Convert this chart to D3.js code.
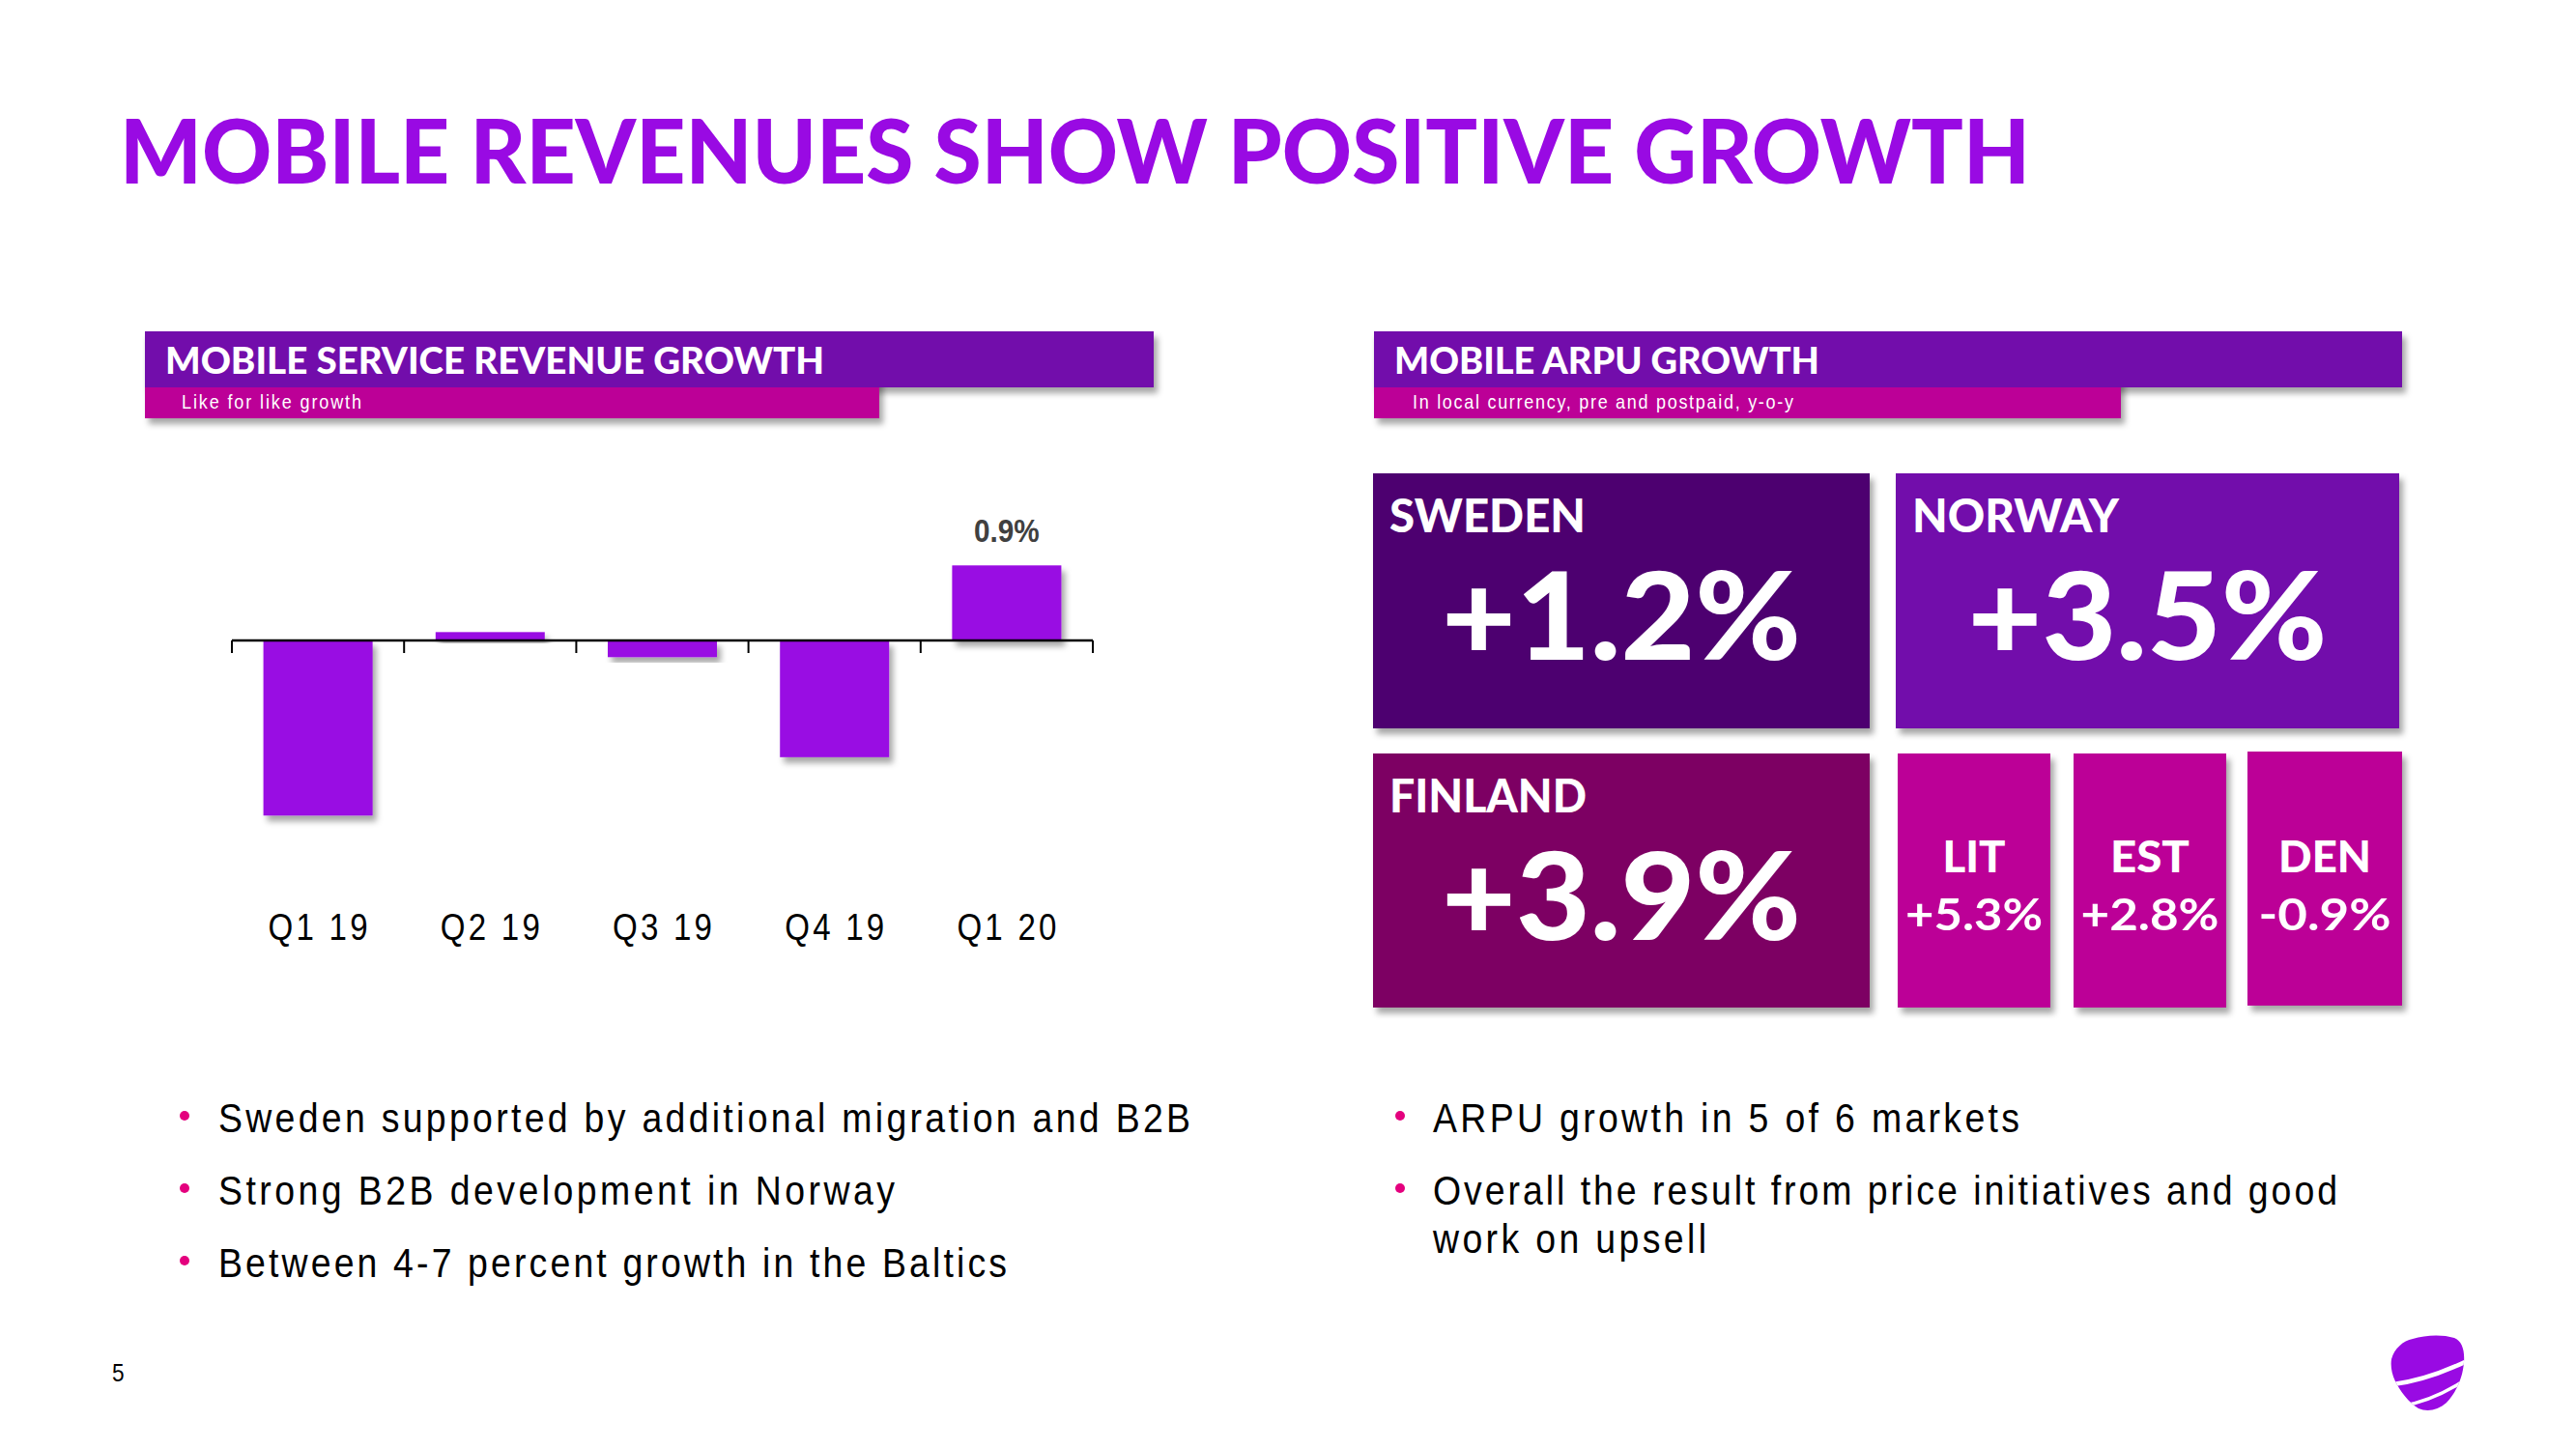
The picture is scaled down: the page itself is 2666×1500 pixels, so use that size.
<!DOCTYPE html>
<html><head><meta charset="utf-8">
<script src="https://cdn.jsdelivr.net/npm/d3@7"></script>
<style>
html,body{margin:0;padding:0;background:#fff;}
svg{display:block;}
</style></head>
<body>
<script>
// ---------- DATA ----------
const title = "MOBILE REVENUES SHOW POSITIVE GROWTH";
const categories = ["Q1 19", "Q2 19", "Q3 19", "Q4 19", "Q1 20"];
const values = [-2.1, 0.1, -0.2, -1.4, 0.9];
const valueLabels = ["", "", "", "", "0.9%"];
const leftHeader = "MOBILE SERVICE REVENUE GROWTH";
const leftSub = "Like for like growth";
const rightHeader = "MOBILE ARPU GROWTH";
const rightSub = "In local currency, pre and postpaid, y-o-y";
const bigCountries = ["SWEDEN", "NORWAY", "FINLAND"];
const bigValues = ["+1.2%", "+3.5%", "+3.9%"];
const smallCountries = ["LIT", "EST", "DEN"];
const smallValues = ["+5.3%", "+2.8%", "-0.9%"];
const leftBullets = ["Sweden supported by additional migration and B2B", "Strong B2B development in Norway", "Between 4-7 percent growth in the Baltics"];
const rightBullets = [["ARPU growth in 5 of 6 markets"], ["Overall the result from price initiatives and good", "work on upsell"]];
const pageNumber = "5";

// ---------- STYLE ----------
const W = 2666, H = 1500;
const C = {purple:"#990AE3", header:"#7209AB", magenta:"#BC0097", sweden:"#4D066F", norway:"#7209AB", finland:"#7D0064", small:"#BC0097"};
const heavy = "'Lato','Open Sans','DejaVu Sans',sans-serif";
const narrow = "'Liberation Sans Narrow','Liberation Sans',Arial,sans-serif";
const SX = 0.87; // horizontal compression to emulate a narrow face

const svg = d3.select("body").append("svg").attr("width", W).attr("height", H);
const defs = svg.append("defs");
const f = defs.append("filter").attr("id","sh").attr("x","-10%").attr("y","-10%").attr("width","130%").attr("height","140%");
f.append("feDropShadow").attr("dx",4).attr("dy",6).attr("stdDeviation",3).attr("flood-color","#000").attr("flood-opacity",0.35);

// narrow text helper: glyphs compressed, spacing adjusted to reach target width
function narrowText(parent, x, y, txt, size, width, opts={}){
  const sx = opts.sx || SX;
  const g = parent.append("g").attr("transform",`translate(${x},${y}) scale(${sx},1)`);
  const t = g.append("text").attr("x",0).attr("y",0).text(txt)
    .attr("font-family",narrow).attr("font-size",size).attr("fill",opts.fill||"#000")
    .attr("font-weight",opts.weight||400).attr("text-anchor",opts.anchor||"start");
  if (width) t.attr("textLength",width/sx).attr("lengthAdjust","spacing");
  return t;
}

// Title
svg.append("text").attr("x",124).attr("y",190).text(title)
  .attr("font-family",heavy).attr("font-weight",900).attr("font-size",92)
  .attr("fill",C.purple).attr("textLength",1977).attr("lengthAdjust","spacingAndGlyphs");

// Header bars
function header(x, wMain, wSub, t1, t1len, t2, t2x, t2len){
  const g = svg.append("g");
  g.append("rect").attr("x",x).attr("y",343).attr("width",wSub).attr("height",90).attr("fill",C.magenta).attr("filter","url(#sh)");
  g.append("rect").attr("x",x).attr("y",343).attr("width",wMain).attr("height",58).attr("fill",C.header).attr("filter","url(#sh)");
  g.append("rect").attr("x",x).attr("y",401).attr("width",wSub).attr("height",32).attr("fill",C.magenta);
  g.append("text").attr("x",x+21).attr("y",387).text(t1).attr("font-family",heavy).attr("font-weight",900)
   .attr("font-size",38).attr("fill","#fff").attr("textLength",t1len).attr("lengthAdjust","spacingAndGlyphs");
  narrowText(g, t2x, 423, t2, 20, t2len, {fill:"#fff", sx:0.9});
}
header(150, 1044, 760, leftHeader, 682, leftSub, 188, 186);
header(1422, 1064, 773, rightHeader, 440, rightSub, 1462, 394);

// ---------- BAR CHART ----------
const x = d3.scaleBand().domain(categories).range([240, 1131]).paddingInner(0.366).paddingOuter(0.183);
const pxPerUnit = 86.3, zeroY = 663;
const y = d3.scaleLinear().domain([-3, 1.5]).range([zeroY + 3*pxPerUnit, zeroY - 1.5*pxPerUnit]);

const chart = svg.append("g");
chart.selectAll("rect.bar").data(values).join("rect").attr("class","bar")
  .attr("x",(d,i)=>x(categories[i]))
  .attr("y",d=>y(Math.max(0,d)))
  .attr("width",x.bandwidth())
  .attr("height",d=>Math.abs(y(d)-y(0)))
  .attr("fill",C.purple).attr("filter","url(#sh)");

// axis line with ticks at band boundaries
const axisG = chart.append("g").attr("transform",`translate(0,${y(0)})`);
axisG.append("line").attr("x1",x.range()[0]).attr("x2",x.range()[1]).attr("stroke","#000").attr("stroke-width",2.5);
const tickXs = d3.range(categories.length+1).map(i=>x.range()[0] + i*x.step());
axisG.selectAll("line.tick").data(tickXs).join("line").attr("class","tick")
  .attr("x1",d=>d).attr("x2",d=>d).attr("y1",0).attr("y2",13).attr("stroke","#000").attr("stroke-width",2);

// category labels
categories.forEach(c=>{
  narrowText(chart, x(c)+x.bandwidth()/2, 973, c, 38, 103, {anchor:"middle"});
});

// value labels
values.forEach((d,i)=>{
  if (!valueLabels[i]) return;
  narrowText(chart, x(categories[i])+x.bandwidth()/2, y(Math.max(0,d))-24, valueLabels[i], 33, null,
    {anchor:"middle", weight:700, fill:"#404040", sx:0.9});
});

// ---------- ARPU BOXES ----------
const bigBoxes = [
  {x:1421, y:490, w:514, h:264, fill:C.sweden},
  {x:1962, y:490, w:521, h:264, fill:C.norway},
  {x:1421, y:780, w:514, h:263, fill:C.finland}
];
const bigNameLen = [203, 214, 204];
const boxes = svg.append("g");
bigBoxes.forEach((b,i)=>{
  boxes.append("rect").attr("x",b.x).attr("y",b.y).attr("width",b.w).attr("height",b.h).attr("fill",b.fill).attr("filter","url(#sh)");
  boxes.append("text").attr("x",b.x+17).attr("y",b.y+61).text(bigCountries[i])
    .attr("font-family",heavy).attr("font-weight",900).attr("font-size",47).attr("fill","#fff")
    .attr("textLength",bigNameLen[i]).attr("lengthAdjust","spacingAndGlyphs");
  boxes.append("text").attr("x",b.x+b.w/2).attr("y",b.y+193).attr("text-anchor","middle").text(bigValues[i])
    .attr("font-family",heavy).attr("font-weight",900).attr("font-size",126).attr("fill","#fff")
    .attr("textLength",372).attr("lengthAdjust","spacingAndGlyphs");
});
const smallBoxes = [
  {x:1964, y:780, w:158},
  {x:2146, y:780, w:158},
  {x:2326, y:778, w:160}
];
const smallNameLen = [65, 82, 96];
const smallValLen = [142, 143, 137];
smallBoxes.forEach((b,i)=>{
  boxes.append("rect").attr("x",b.x).attr("y",b.y).attr("width",b.w).attr("height",263).attr("fill",C.small).attr("filter","url(#sh)");
  boxes.append("text").attr("x",b.x+b.w/2).attr("y",903).attr("text-anchor","middle").text(smallCountries[i])
    .attr("font-family",heavy).attr("font-weight",900).attr("font-size",46).attr("fill","#fff")
    .attr("textLength",smallNameLen[i]).attr("lengthAdjust","spacingAndGlyphs");
  boxes.append("text").attr("x",b.x+b.w/2).attr("y",963).attr("text-anchor","middle").text(smallValues[i])
    .attr("font-family",heavy).attr("font-weight",700).attr("font-size",46).attr("fill","#fff")
    .attr("textLength",smallValLen[i]).attr("lengthAdjust","spacingAndGlyphs");
});

// ---------- BULLETS ----------
const bl = svg.append("g");
const leftLens = [1006, 700, 816];
leftBullets.forEach((t,i)=>{
  const by = 1172 + i*75;
  bl.append("circle").attr("cx",191).attr("cy",by-17).attr("r",5).attr("fill","#E4007E");
  narrowText(bl, 226, by, t, 43, leftLens[i]);
});
const rightLens = [[607],[936, 283]];
rightBullets.forEach((lines,i)=>{
  const by = 1172 + i*75;
  bl.append("circle").attr("cx",1449).attr("cy",by-17).attr("r",5).attr("fill","#E4007E");
  lines.forEach((t,j)=>{
    narrowText(bl, 1483, by + j*50, t, 43, rightLens[i][j]);
  });
});

// page number
narrowText(svg, 116, 1430, pageNumber, 26, null);

// logo (Telia pebble)
const logo = svg.append("g").attr("transform","translate(2460,1370)");
const outline = "M15,37 C18,26 27,18 37,16 C50,12 67,11 80,15 C88,18 91,28 90,40 C89,55 83,70 72,82 C63,90 52,92 43,88 C33,82 24,70 19,60 C15,52 14,44 15,37 Z";
defs.append("clipPath").attr("id","logoclip").append("path").attr("d",outline);
logo.append("path").attr("d",outline).attr("fill",C.purple);
const lg = logo.append("g").attr("clip-path","url(#logoclip)");
lg.append("path").attr("d","M10,64 Q50,60 95,38").attr("stroke","#fff").attr("stroke-width",4.5).attr("fill","none");
lg.append("path").attr("d","M24,86 Q60,80 95,56").attr("stroke","#fff").attr("stroke-width",3.5).attr("fill","none");
</script>
</body></html>
